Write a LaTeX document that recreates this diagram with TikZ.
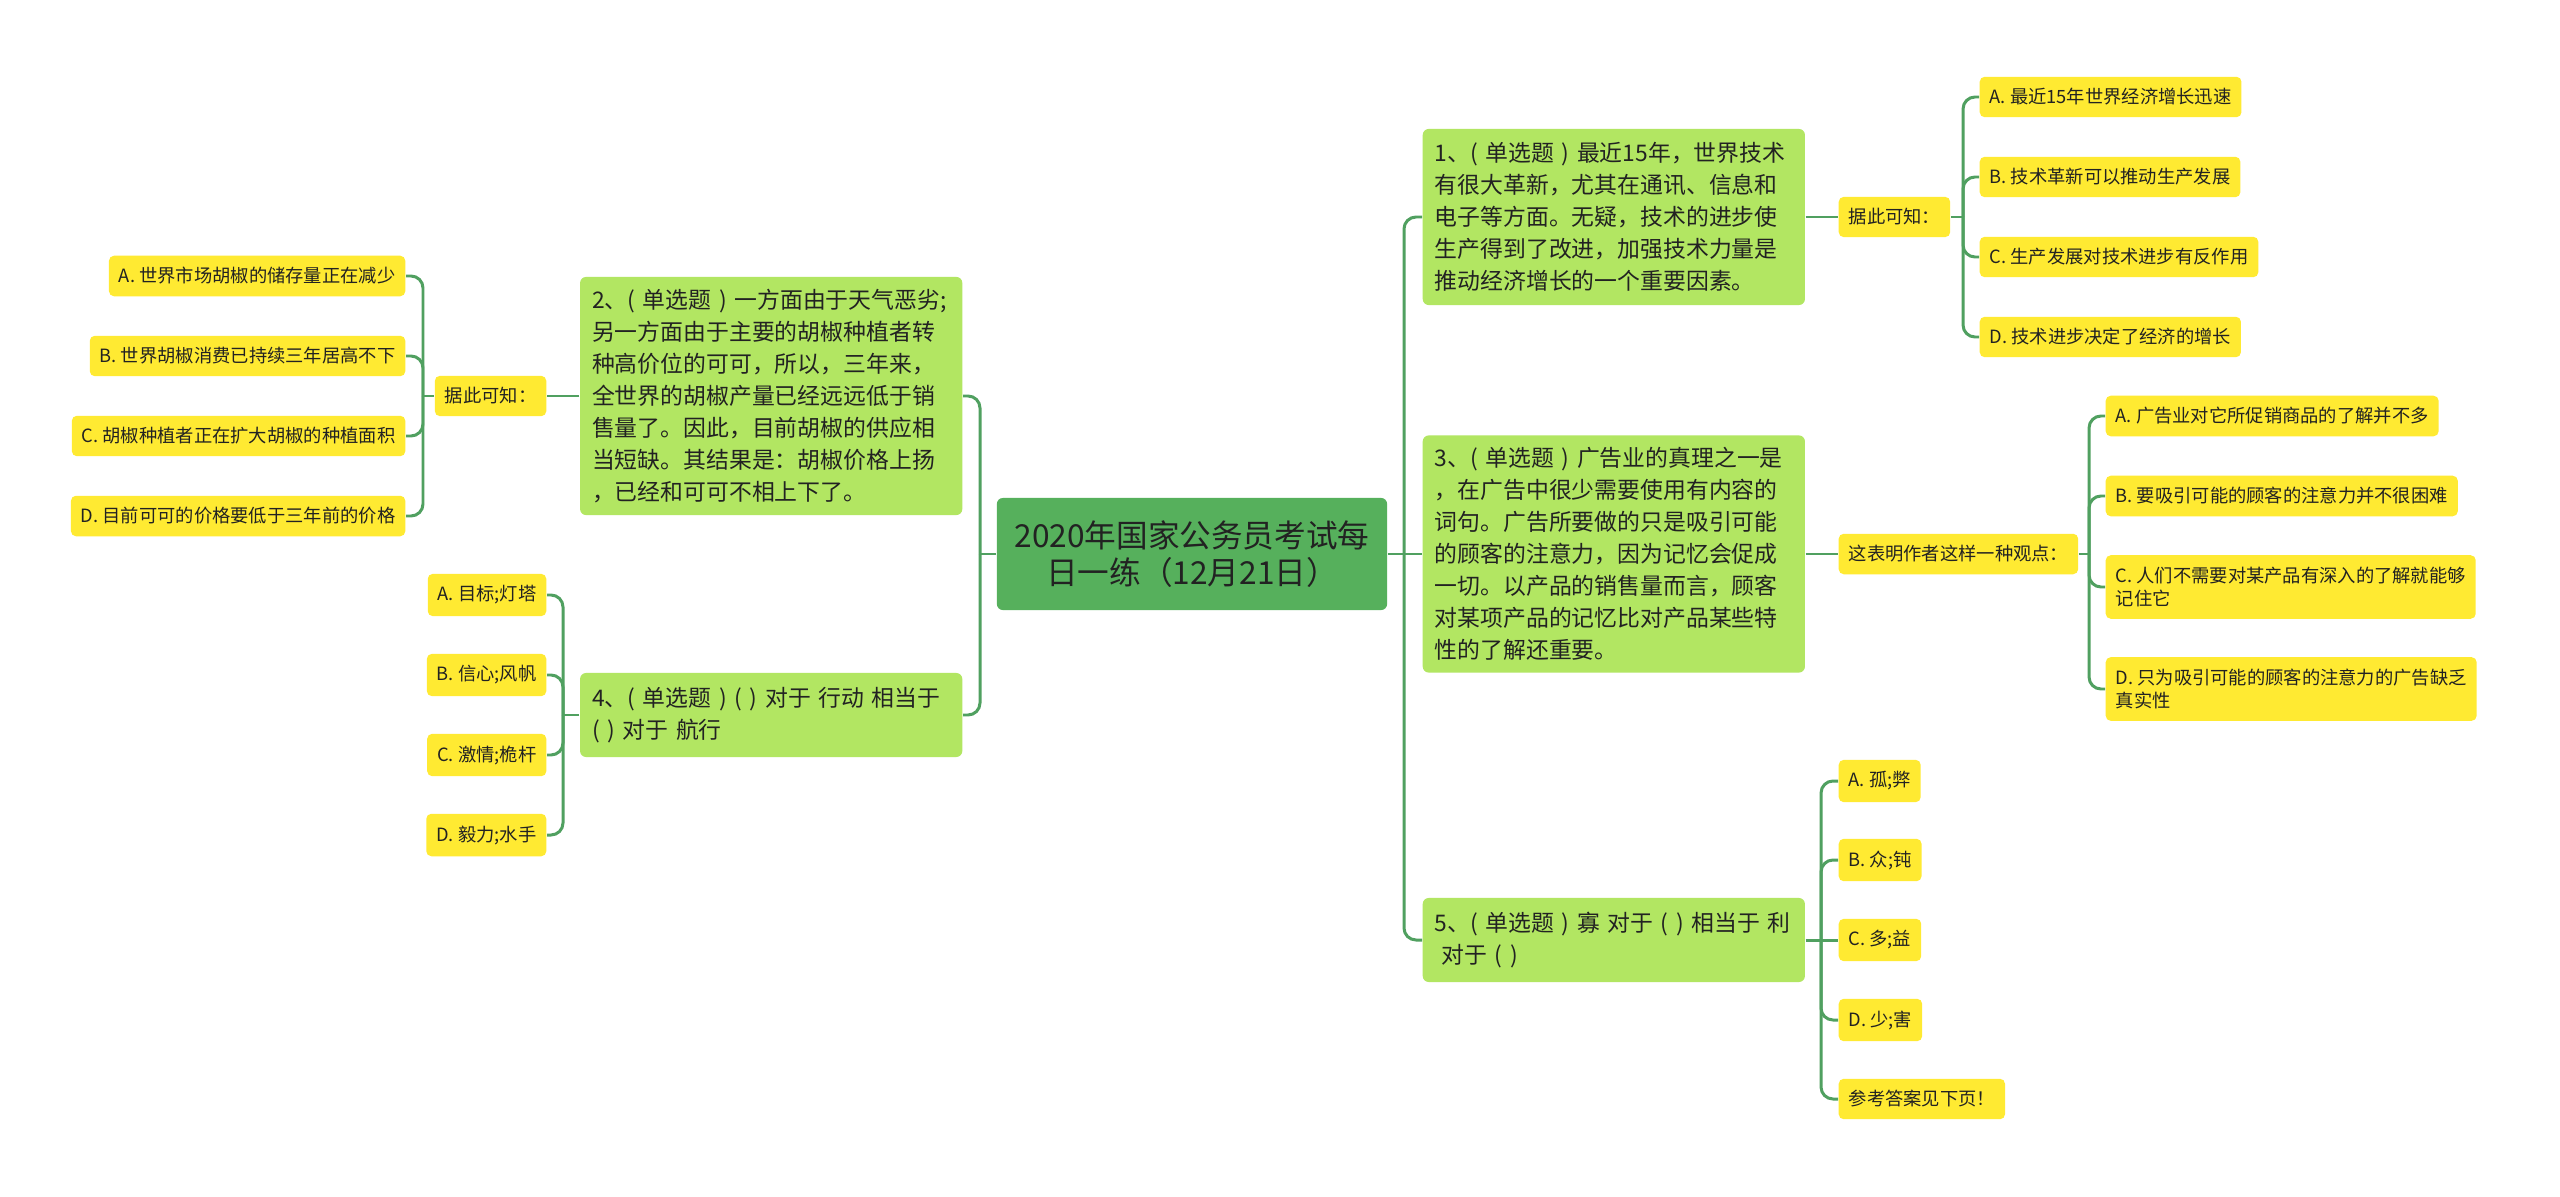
\documentclass[tikz,border=0pt]{standalone}
\usepackage{fontspec}
\newfontfamily\cjkfont{Noto Sans CJK SC}
\usepackage{tikz}
\definecolor{rootgreen}{RGB}{86,176,92}
\definecolor{qgreen}{RGB}{178,230,98}
\definecolor{optyellow}{RGB}{255,234,50}
\definecolor{linegreen}{RGB}{80,160,96}
\definecolor{txt}{RGB}{34,34,34}

\begin{document}
\begin{tikzpicture}[x=0.01cm, y=-0.01cm,
  every node/.style={text=txt},
  root/.style={fill=rootgreen, rounded corners=0.6mm, minimum width=39mm, minimum height=11.2mm,
    align=center, font=\cjkfont\fontsize{9}{10.6}\selectfont},
  qbox/.style={fill=qgreen, rounded corners=0.6mm, text width=35.8mm, inner xsep=1.2mm,
    align=left, font=\cjkfont\fontsize{6.5}{9.1}\selectfont},
  opt/.style={fill=optyellow, rounded corners=0.5mm, inner xsep=1mm, minimum height=4mm,
    align=left, font=\cjkfont\fontsize{5.2}{6.6}\selectfont},
  link/.style={draw=linegreen, line width=0.85pt, rounded corners=1.2mm}]
\fill[white] (0,0) rectangle (2560,1197);
\useasboundingbox (0,0) rectangle (2560,1197);

\node[root] (root) at (1192,554) {2020年国家公务员考试每\\日一练（12月21日）};

\node[qbox, anchor=west, minimum height=17.6mm] (q1) at (1422,217) {1、( 单选题 ) 最近15年，世界技术\\有很大革新，尤其在通讯、信息和\\电子等方面。无疑，技术的进步使\\生产得到了改进，加强技术力量是\\推动经济增长的一个重要因素。};
\node[qbox, anchor=west, minimum height=23.7mm] (q3) at (1422,554) {3、( 单选题 ) 广告业的真理之一是\\，在广告中很少需要使用有内容的\\词句。广告所要做的只是吸引可能\\的顾客的注意力，因为记忆会促成\\一切。以产品的销售量而言，顾客\\对某项产品的记忆比对产品某些特\\性的了解还重要。};
\node[qbox, anchor=west, minimum height=8.4mm] (q5) at (1422,940) {5、( 单选题 ) 寡 对于 ( ) 相当于 利\\\hspace*{0.3em}对于 ( )};
\node[qbox, anchor=east, minimum height=23.8mm] (q2) at (963,396) {2、( 单选题 ) 一方面由于天气恶劣;\\另一方面由于主要的胡椒种植者转\\种高价位的可可，所以，三年来，\\全世界的胡椒产量已经远远低于销\\售量了。因此，目前胡椒的供应相\\当短缺。其结果是：胡椒价格上扬\\，已经和可可不相上下了。};
\node[qbox, anchor=east, minimum height=8.4mm] (q4) at (963,715) {4、( 单选题 ) ( ) 对于 行动 相当于\\( ) 对于 航行};

\node[opt, anchor=west] (k1) at (1838,217) {据此可知：};
\node[opt, anchor=east] (k2) at (547,396) {据此可知：};
\node[opt, anchor=west] (k3) at (1838,554) {这表明作者这样一种观点：};

\node[opt, anchor=west] (q1a) at (1979,97) {A. 最近15年世界经济增长迅速};
\node[opt, anchor=west] (q1b) at (1979,177) {B. 技术革新可以推动生产发展};
\node[opt, anchor=west] (q1c) at (1979,257) {C. 生产发展对技术进步有反作用};
\node[opt, anchor=west] (q1d) at (1979,337) {D. 技术进步决定了经济的增长};

\node[opt, anchor=east] (q2a) at (406,276) {A. 世界市场胡椒的储存量正在减少};
\node[opt, anchor=east] (q2b) at (406,356) {B. 世界胡椒消费已持续三年居高不下};
\node[opt, anchor=east] (q2c) at (406,436) {C. 胡椒种植者正在扩大胡椒的种植面积};
\node[opt, anchor=east] (q2d) at (406,516) {D. 目前可可的价格要低于三年前的价格};

\node[opt, anchor=west] (q3a) at (2105,416) {A. 广告业对它所促销商品的了解并不多};
\node[opt, anchor=west] (q3b) at (2105,496) {B. 要吸引可能的顾客的注意力并不很困难};
\node[opt, anchor=west, minimum height=6.3mm] (q3c) at (2105,587) {C. 人们不需要对某产品有深入的了解就能够\\记住它};
\node[opt, anchor=west, minimum height=6.3mm] (q3d) at (2105,689) {D. 只为吸引可能的顾客的注意力的广告缺乏\\真实性};

\node[opt, anchor=east] (q4a) at (547,595) {A. 目标;灯塔};
\node[opt, anchor=east] (q4b) at (547,675) {B. 信心;风帆};
\node[opt, anchor=east] (q4c) at (547,755) {C. 激情;桅杆};
\node[opt, anchor=east] (q4d) at (547,835) {D. 毅力;水手};

\node[opt, anchor=west] (q5a) at (1838,781) {A. 孤;弊};
\node[opt, anchor=west] (q5b) at (1838,860) {B. 众;钝};
\node[opt, anchor=west] (q5c) at (1838,940) {C. 多;益};
\node[opt, anchor=west] (q5d) at (1838,1020) {D. 少;害};
\node[opt, anchor=west] (q5e) at (1838,1099) {参考答案见下页！};

\coordinate (jr) at (1404,554);
\coordinate (jl) at (980,554);
\coordinate (j1) at (1963,217);
\coordinate (j2) at (423,396);
\coordinate (j3) at (2089,554);
\coordinate (j4) at (563,715);
\coordinate (j5) at (1821,940);

\draw[link] (root.east) -- (jr);
\draw[link] (jr) |- (q1.west);
\draw[link] (jr) -- (q3.west);
\draw[link] (jr) |- (q5.west);
\draw[link] (root.west) -- (jl);
\draw[link] (jl) |- (q2.east);
\draw[link] (jl) |- (q4.east);

\draw[link] (q1.east) -- (k1.west);
\draw[link] (k1.east) -- (j1);
\draw[link] (j1) |- (q1a.west);
\draw[link] (j1) |- (q1b.west);
\draw[link] (j1) |- (q1c.west);
\draw[link] (j1) |- (q1d.west);

\draw[link] (q2.west) -- (k2.east);
\draw[link] (k2.west) -- (j2);
\draw[link] (j2) |- (q2a.east);
\draw[link] (j2) |- (q2b.east);
\draw[link] (j2) |- (q2c.east);
\draw[link] (j2) |- (q2d.east);

\draw[link] (q3.east) -- (k3.west);
\draw[link] (k3.east) -- (j3);
\draw[link] (j3) |- (q3a.west);
\draw[link] (j3) |- (q3b.west);
\draw[link] (j3) |- (q3c.west);
\draw[link] (j3) |- (q3d.west);

\draw[link] (q4.west) -- (j4);
\draw[link] (j4) |- (q4a.east);
\draw[link] (j4) |- (q4b.east);
\draw[link] (j4) |- (q4c.east);
\draw[link] (j4) |- (q4d.east);

\draw[link] (q5.east) -- (j5);
\draw[link] (j5) |- (q5a.west);
\draw[link] (j5) |- (q5b.west);
\draw[link] (j5) -- (q5c.west);
\draw[link] (j5) |- (q5d.west);
\draw[link] (j5) |- (q5e.west);
\end{tikzpicture}
\end{document}
